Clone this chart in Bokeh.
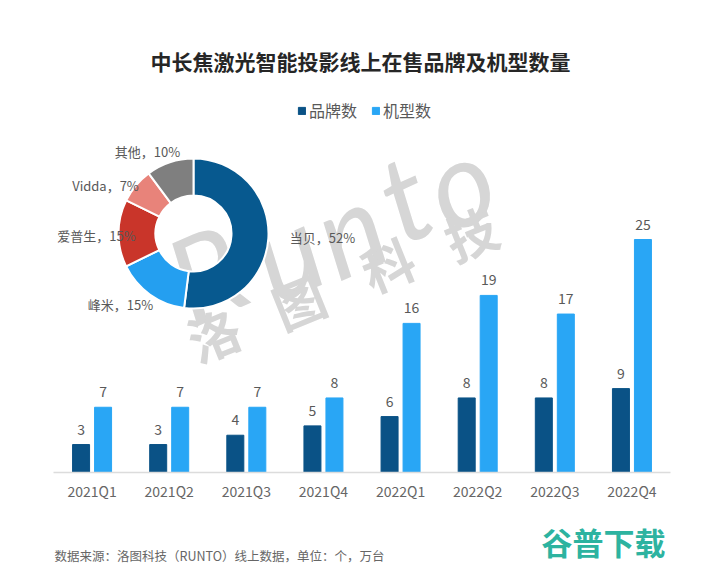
import math
from bokeh.embed import file_html
from bokeh.resources import INLINE
from bokeh.plotting import figure
from bokeh.models import ColumnDataSource, Range1d, Label, Legend, LegendItem, Title, FixedTicker, LinearAxis
from bokeh.transform import dodge

quarters = ["2021Q1", "2021Q2", "2021Q3", "2021Q4", "2022Q1", "2022Q2", "2022Q3", "2022Q4"]
brands = [3, 3, 4, 5, 6, 8, 8, 9]
models = [7, 7, 7, 8, 16, 19, 17, 25]

share_names = ["当贝", "峰米", "爱普生", "Vidda", "其他"]
share_labels = ["52%", "15%", "15%", "7%", "10%"]
share_drawn = [52.0, 15.8, 14.5, 7.5, 10.2]
share_colors = ["#07598f", "#249ff0", "#c9352a", "#e8837a", "#7f7f7f"]
label_dx = [129, -73, -97, -88, -46]
label_dy = [-4, -71, -2, 48, 82]

FONT = "Noto Sans CJK SC"
TXT = "#595959"

W, H = 720, 566
TOP = 78            # title band
BASE_Y = 472        # baseline of the bars, counted from the top of the page
AX_L, AX_R = 53, 670
PX_PER_UNIT = 9.32
PX_PER_CAT = (AX_R - AX_L) / len(quarters)

p = figure(width=W, height=H, output_backend="svg", toolbar_location=None,
           x_range=Range1d(-AX_L / PX_PER_CAT, (W - AX_L) / PX_PER_CAT),
           y_range=Range1d(-(H - BASE_Y) / PX_PER_UNIT, (BASE_Y - TOP) / PX_PER_UNIT),
           min_border_left=0, min_border_right=0, min_border_top=TOP, min_border_bottom=0,
           outline_line_color=None, background_fill_color="white", border_fill_color="white",
           x_axis_location=None, y_axis_location=None)
p.grid.visible = False
pos = [i + 0.5 for i in range(len(quarters))]
ax = LinearAxis(fixed_location=0, bounds=(0, len(quarters)))
ax.ticker = FixedTicker(ticks=pos)
ax.major_label_overrides = dict(zip(pos, quarters))
ax.axis_line_color = "#dcdcdc"
ax.axis_line_width = 1.5
ax.major_tick_line_color = None
ax.minor_tick_line_color = None
ax.major_label_text_font = FONT
ax.major_label_text_font_size = "14px"
ax.major_label_text_color = "#666666"
ax.major_label_standoff = 2
p.add_layout(ax, "below")

# overlay scale in page pixels (y measured upward from the page bottom)
p.extra_x_ranges["px"] = Range1d(0, W)
p.extra_y_ranges["px"] = Range1d(0, H - TOP)
def fy(y):
    return H - y

# watermark
WM = "#d6d6d6"
for ch, x, y in [("R", 205, 272), ("u", 285, 250), ("n", 348, 227), ("t", 403, 195), ("o", 458, 180)]:
    p.add_layout(Label(x=x, y=fy(y), x_range_name="px", y_range_name="px", text=ch, angle=24, angle_units="deg",
                       text_font="Lato", text_font_style="italic", text_font_size="120px", text_color=WM,
                       text_align="center", text_baseline="middle", level="underlay"))
for ch, x, y in [("洛", 213, 333), ("图", 298, 300), ("科", 387, 263), ("技", 470, 232)]:
    p.add_layout(Label(x=x, y=fy(y), x_range_name="px", y_range_name="px", text=ch, angle=22, angle_units="deg",
                       text_font=FONT, text_font_style="bold", text_font_size="52px", text_color=WM,
                       text_align="center", text_baseline="middle", level="underlay"))

# bars
src = ColumnDataSource(dict(q=pos, brands=brands, models=models))
d = 11 / PX_PER_CAT
bw = 17 / PX_PER_CAT
r1 = p.vbar(x=dodge("q", -d), top="brands", width=bw, source=src, color="#0a5286")
r2 = p.vbar(x=dodge("q", d), top="models", width=bw, source=src, color="#29a6f5")
for col, sign in [("brands", -1), ("models", 1)]:
    p.text(x=dodge("q", sign * d), y=col, text=col, source=src, y_offset=-10,
           text_font={"value": FONT}, text_font_size={"value": "14px"}, text_color="#595959",
           text_align="center", text_baseline="bottom")

# donut
cum = [0.0]
for s in share_drawn:
    cum.append(cum[-1] + s)
total = cum[-1]
starts = [math.pi / 2 - 2 * math.pi * c / total for c in cum[:-1]]
ends = [math.pi / 2 - 2 * math.pi * c / total for c in cum[1:]]
CX, CY = 193, fy(233)
ds = ColumnDataSource(dict(x=[CX] * 5, y=[CY] * 5, s=starts, e=ends, c=share_colors))
p.annular_wedge(x="x", y="y", inner_radius=38, outer_radius=75, start_angle="s", end_angle="e",
                direction="clock", fill_color="c", line_color="white", line_width=2,
                source=ds, x_range_name="px", y_range_name="px")
lab = ColumnDataSource(dict(x=[CX] * 5, y=[CY] * 5,
                            t=[f"{n}，{v}" for n, v in zip(share_names, share_labels)],
                            dx=label_dx, dy=[-v for v in label_dy]))
p.text(x="x", y="y", text="t", x_offset="dx", y_offset="dy", source=lab, x_range_name="px", y_range_name="px",
       text_font={"value": FONT}, text_font_size={"value": "13px"}, text_color=TXT,
       text_align="center", text_baseline="middle")

# title
t = Title(text="中长焦激光智能投影线上在售品牌及机型数量", text_font=FONT, text_font_style="bold",
          text_font_size="21px", text_color="#262626", align="center", offset=4, standoff=6)
p.title = t

# legend
leg = Legend(items=[LegendItem(label="品牌数", renderers=[r1]), LegendItem(label="机型数", renderers=[r2])],
             orientation="horizontal", location=(297, 444), background_fill_alpha=0, border_line_color=None,
             padding=0, margin=0, spacing=14, glyph_width=9, glyph_height=9, label_standoff=3,
             label_text_font=FONT, label_text_font_size="16px", label_text_color=TXT)
p.add_layout(leg, "center")

# footer and logo
p.add_layout(Label(x=54, y=fy(555), x_range_name="px", y_range_name="px",
                   text="数据来源：洛图科技（RUNTO）线上数据，单位：个，万台", text_font=FONT, text_font_size="12.5px",
                   text_color="#666666", text_baseline="middle"))
p.add_layout(Label(x=603, y=fy(541), x_range_name="px", y_range_name="px", text="谷普下载", text_font=FONT,
                   text_font_style="bold", text_font_size="31px", text_color="#2db3a0",
                   text_align="center", text_baseline="middle"))

open("out.html", "w").write(file_html(p, INLINE))
